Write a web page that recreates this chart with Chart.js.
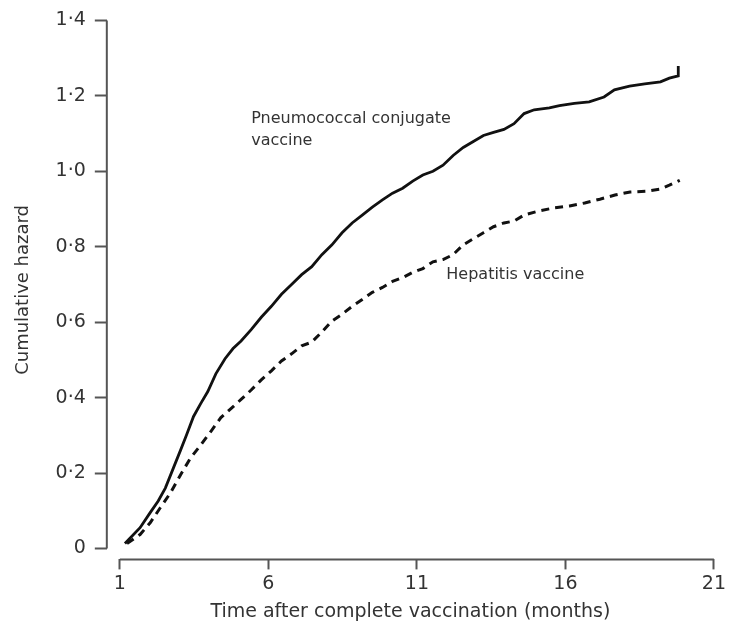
<!DOCTYPE html>
<html>
<head>
<meta charset="utf-8">
<script src="https://cdn.jsdelivr.net/npm/chart.js@4"></script>
<style>
  html, body { margin: 0; padding: 0; background: #fff; }
</style>
</head>
<body>
<canvas id="myChart" width="729" height="632"></canvas>
<script>
// months after complete vaccination / cumulative hazard
const pcvMonths = [1.17, 1.68, 2.02, 2.29, 2.53, 2.80, 3.04, 3.24, 3.48, 3.72, 3.96, 4.23, 4.54, 4.81, 5.08, 5.42, 5.76, 6.10, 6.44, 6.78, 7.12, 7.46, 7.80, 8.14, 8.48, 8.82, 9.16, 9.50, 9.84, 10.18, 10.52, 10.86, 11.2, 11.54, 11.88, 12.22, 12.56, 12.9, 13.24, 13.58, 13.93, 14.27, 14.61, 14.95, 15.46, 15.8, 16.3, 16.8, 17.3, 17.65, 18.16, 18.67, 19.2, 19.5, 19.8, 19.8];
const pcvHazard = [0.013, 0.055, 0.095, 0.126, 0.16, 0.213, 0.26, 0.30, 0.35, 0.384, 0.416, 0.463, 0.503, 0.53, 0.55, 0.58, 0.613, 0.642, 0.674, 0.70, 0.726, 0.747, 0.779, 0.805, 0.837, 0.863, 0.884, 0.905, 0.924, 0.942, 0.955, 0.974, 0.99, 1.0, 1.016, 1.042, 1.063, 1.079, 1.095, 1.103, 1.111, 1.126, 1.153, 1.163, 1.168, 1.174, 1.18, 1.184, 1.197, 1.216, 1.226, 1.232, 1.237, 1.247, 1.253, 1.279];

const hepMonths = [1.24, 1.68, 2.02, 2.36, 2.70, 3.04, 3.38, 3.72, 4.06, 4.40, 4.74, 5.08, 5.42, 5.76, 6.10, 6.44, 6.78, 7.12, 7.46, 7.80, 8.14, 8.48, 8.82, 9.16, 9.50, 9.84, 10.18, 10.52, 10.86, 11.2, 11.54, 11.88, 12.22, 12.56, 12.9, 13.24, 13.58, 13.93, 14.27, 14.61, 15.12, 15.63, 16.14, 16.65, 17.16, 17.67, 18.18, 18.7, 19.2, 19.5, 19.85];
const hepHazard = [0.013, 0.037, 0.068, 0.108, 0.147, 0.195, 0.24, 0.274, 0.31, 0.347, 0.371, 0.395, 0.42, 0.447, 0.471, 0.497, 0.516, 0.537, 0.547, 0.574, 0.603, 0.621, 0.642, 0.66, 0.679, 0.692, 0.708, 0.718, 0.732, 0.742, 0.76, 0.766, 0.779, 0.805, 0.821, 0.837, 0.853, 0.863, 0.868, 0.884, 0.895, 0.903, 0.908, 0.916, 0.926, 0.937, 0.945, 0.947, 0.953, 0.963, 0.976];

const xTicks = [1, 6, 11, 16, 21];
const yTicks = [0, 0.2, 0.4, 0.6, 0.8, 1.0, 1.2, 1.4];

const curveLabels = [
  { lines: ["Pneumococcal conjugate", "vaccine"], x: 5.42, y: 1.139 },
  { lines: ["Hepatitis vaccine"], x: 11.99, y: 0.726 },
];

const toPoints = (xs, ys) => xs.map((x, i) => ({ x: x, y: ys[i] }));

const FONT = "'DejaVu Sans', sans-serif";
const AXIS = "#555";
const TEXT = "#333";

// axis lines only run between the first and last tick, leaving a gap at the corner
const offsetAxes = {
  id: "offsetAxes",
  afterDraw(chart) {
    const { ctx, scales: { x, y }, chartArea } = chart;
    ctx.save();
    ctx.strokeStyle = AXIS;
    ctx.lineWidth = 2;
    ctx.beginPath();
    ctx.moveTo(chartArea.left, y.getPixelForValue(yTicks[0]));
    ctx.lineTo(chartArea.left, y.getPixelForValue(yTicks[yTicks.length - 1]));
    ctx.moveTo(x.getPixelForValue(xTicks[0]), chartArea.bottom);
    ctx.lineTo(x.getPixelForValue(xTicks[xTicks.length - 1]), chartArea.bottom);
    ctx.stroke();

    ctx.fillStyle = TEXT;
    ctx.font = "16px " + FONT;
    ctx.textAlign = "left";
    ctx.textBaseline = "middle";
    curveLabels.forEach((lab) => {
      const px = x.getPixelForValue(lab.x);
      const py = y.getPixelForValue(lab.y);
      lab.lines.forEach((t, i) => ctx.fillText(t, px, py + i * 22));
    });
    ctx.restore();
  },
};

const ctx = document.getElementById("myChart");

new Chart(ctx, {
  type: "line",
  data: {
    datasets: [
      {
        label: "Pneumococcal conjugate vaccine",
        data: toPoints(pcvMonths, pcvHazard),
        borderColor: "#111",
        borderWidth: 2.8,
        pointRadius: 0,
        tension: 0,
      },
      {
        label: "Hepatitis vaccine",
        data: toPoints(hepMonths, hepHazard),
        borderColor: "#111",
        borderWidth: 3,
        borderDash: [8, 6],
        pointRadius: 0,
        tension: 0,
      },
    ],
  },
  options: {
    responsive: false,
    animation: false,
    layout: {
      padding: { top: 2, right: 12, left: 13, bottom: 9 },
    },
    plugins: {
      legend: { display: false },
      tooltip: { enabled: false },
    },
    scales: {
      x: {
        type: "linear",
        min: 0.56,
        max: 21,
        afterBuildTicks: (scale) => {
          scale.ticks = xTicks.map((v) => ({ value: v }));
        },
        border: { display: false },
        grid: {
          drawOnChartArea: false,
          drawTicks: true,
          tickLength: 10,
          tickWidth: 2,
          color: AXIS,
        },
        ticks: {
          color: TEXT,
          font: { family: FONT, size: 19 },
          padding: 3,
          maxRotation: 0,
          autoSkip: false,
        },
        title: {
          display: true,
          text: "Time after complete vaccination (months)",
          color: TEXT,
          font: { family: FONT, size: 19 },
          padding: { top: 2, bottom: 0 },
        },
      },
      y: {
        min: -0.029,
        max: 1.4,
        afterBuildTicks: (scale) => {
          scale.ticks = yTicks.map((v) => ({ value: v }));
        },
        border: { display: false },
        grid: {
          drawOnChartArea: false,
          drawTicks: true,
          tickLength: 12,
          tickWidth: 2,
          color: AXIS,
        },
        ticks: {
          color: TEXT,
          font: { family: FONT, size: 19 },
          padding: 9,
          autoSkip: false,
          callback: (v) => (v === 0 ? "0" : v.toFixed(1).replace(".", "\u00b7")),
        },
        title: {
          display: true,
          text: "Cumulative hazard",
          color: TEXT,
          font: { family: FONT, size: 18 },
          padding: { top: 0, bottom: 12 },
        },
      },
    },
  },
  plugins: [offsetAxes],
});
</script>
</body>
</html>
